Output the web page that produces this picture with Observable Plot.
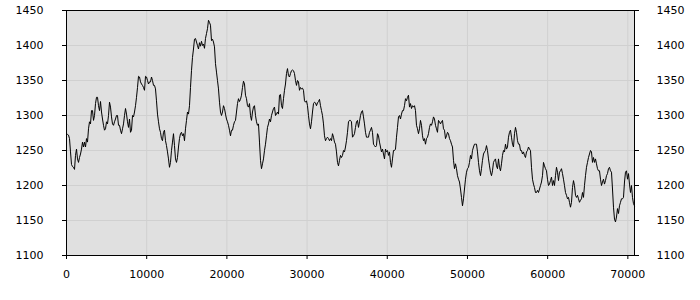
<!DOCTYPE html>
<html>
<head>
<meta charset="utf-8">
<script src="https://cdn.jsdelivr.net/npm/d3@7"></script>
<script src="https://cdn.jsdelivr.net/npm/@observablehq/plot@0.6"></script>
<style>
  html, body { margin: 0; padding: 0; background: #ffffff; }
  #chart { width: 700px; height: 300px; }
</style>
</head>
<body>
<div id="chart"></div>
<script>
// Sample spacing along x (units per sample)
const xStep = 124.7;

// Series values, in order of increasing x
const seriesA = [
  1273,1273,1272,1267,1248,1230,1227,1226,1223,1243,1252,1238,1233,1240,1245,1252,1262,1255,1262,1255,
  1267,1262,1281,1291,1288,1307,1307,1293,1300,1317,1326,1326,1314,1307,1320,1305,1295,1286,1279,1281,
  1291,1288,1300,1319,1312,1298,1288,1286,1291,1295,1300,1300,1286,1286,1279,1274,1281,1288,1300,1310,
  1302,1291,1283,1295,1276,1279,1300,1298,1305,1314,1326,1340,1356,1355,1348,1345,1343,1340,1336,1356,
  1355,1350,1345,1348,1348,1355,1350,1343,1343,1338,1321,1302,1291,1281,1276,1267,1264,1276,1279,1264,
  1257,1248,1238,1226,1233,1250,1262,1274,1257,1238,1233,1240,1255,1267,1274,1276,1271,1274,1264,1281,
  1293,1305,1302,1314,1340,1364,1383,1395,1409,1410,1405,1400,1395,1404,1399,1406,1400,1402,1396,1410,
  1417,1424
];
const seriesB = [
  1436,1433,1429,1407,1409,1405,1398,1374,1362,1350,1338,1319,1305,1300,1305,1314,1310,1302,1295,1291,
  1286,1279,1271,1279,1279,1286,1291,1293,1305,1317,1324,1320,1323,1329,1340,1349,1345,1329,1324,1314,
  1312,1317,1300,1293,1305,1312,1314,1300,1291,1286,1288,1262,1236,1224,1231,1238,1250,1259,1271,1283,
  1288,1295,1291,1300,1305,1310,1312,1300,1302,1305,1302,1329,1330,1314,1310,1324,1336,1345,1360,1367,
  1357,1355,1360,1364,1365,1364,1360,1350,1343,1350,1348,1336,1340,1338,1339,1336,1321,1319,1321,1314,
  1300,1288,1281,1291,1305,1317,1319,1318,1314,1318,1320,1323,1314,1307,1300,1288,1271,1264,1267,1269,
  1267,1264,1267,1264,1274,1269,1262,1259,1248,1233,1228,1236,1243,1240,1243,1250,1248,1255,1264,1276,
  1291,1293
];
const seriesC = [
  1293,1291,1269,1271,1274,1283,1291,1293,1283,1291,1300,1305,1307,1298,1288,1276,1269,1269,1269,1276,
  1279,1283,1276,1259,1257,1255,1257,1274,1271,1262,1255,1248,1252,1245,1238,1252,1248,1250,1243,1248,
  1233,1226,1238,1250,1250,1252,1269,1283,1298,1300,1295,1302,1307,1307,1314,1324,1321,1326,1329,1312,
  1317,1310,1314,1312,1314,1307,1286,1281,1274,1281,1293,1286,1271,1264,1267,1259,1267,1269,1274,1283,
  1288,1286,1291,1298,1295,1286,1281,1276,1293,1291,1288,1291,1293,1281,1279,1267,1271,1276,1274,1267,
  1264,1259,1255,1236,1224,1231,1224,1214,1209,1205,1195,1183,1171,1181,1195,1209,1219,1224,1226,1233,
  1243,1238,1250,1255,1259,1259,1259,1248,1233,1221,1214,1224,1236,1245,1248,1250,1257,1250,1238,1228,
  1219,1214
];
const seriesD = [
  1221,1233,1236,1238,1228,1224,1238,1226,1221,1231,1243,1250,1248,1259,1252,1255,1269,1276,1279,1269,
  1259,1255,1274,1283,1276,1264,1259,1259,1250,1250,1245,1248,1243,1240,1248,1250,1255,1252,1250,1226,
  1209,1202,1197,1190,1190,1193,1190,1195,1200,1205,1214,1233,1228,1224,1221,1209,1200,1202,1207,1212,
  1200,1207,1200,1214,1226,1219,1207,1219,1221,1224,1217,1209,1200,1190,1186,1181,1183,1176,1169,1176,
  1197,1207,1200,1186,1183,1186,1181,1176,1179,1181,1190,1183,1200,1214,1226,1233,1240,1245,1250,1248,
  1233,1240,1233,1238,1231,1224,1221,1221,1209,1200,1205,1209,1202,1207,1214,1217,1224,1226,1221,1219,
  1195,1169,1152,1148,1155,1167,1160,1171,1176,1181,1181,1183,1205,1219,1221,1209,1217,1202,1190,1200,
  1183,1174,1171
];

const xTicks = [0, 10000, 20000, 30000, 40000, 50000, 60000, 70000];
const yTicks = [1100, 1150, 1200, 1250, 1300, 1350, 1400, 1450];
const xDomain = [0, 70830];
const yDomain = [1100, 1450];

const values = [...seriesA, ...seriesB, ...seriesC, ...seriesD];
const data = values.map((v, i) => ({x: i * xStep, y: v}));

const fmt = d => String(d);

const chart = Plot.plot({
  width: 700,
  height: 300,
  marginLeft: 66,
  marginRight: 66,
  marginTop: 10,
  marginBottom: 45,
  style: {fontFamily: "DejaVu Sans", fontSize: "11px", background: "#ffffff", color: "#000000"},
  x: {domain: xDomain, label: null},
  y: {domain: yDomain, label: null},
  marks: [
    Plot.frame({fill: "#e0e0e0", stroke: null}),
    Plot.gridX(xTicks, {stroke: "#d0d0d0", strokeOpacity: 1}),
    Plot.gridY(yTicks, {stroke: "#d0d0d0", strokeOpacity: 1}),
    Plot.line(data, {x: "x", y: "y", stroke: "#000000", strokeWidth: 1}),
    Plot.frame({stroke: "#000000", strokeWidth: 1}),
    Plot.axisX({ticks: xTicks, tickFormat: fmt, tickSize: 4, tickPadding: 11, anchor: "bottom"}),
    Plot.axisY({ticks: yTicks, tickFormat: fmt, tickSize: 4, tickPadding: 19, anchor: "left"}),
    Plot.axisY({ticks: yTicks, tickFormat: fmt, tickSize: 4, tickPadding: 18, anchor: "right"})
  ]
});
document.getElementById("chart").appendChild(chart);
</script>
</body>
</html>
